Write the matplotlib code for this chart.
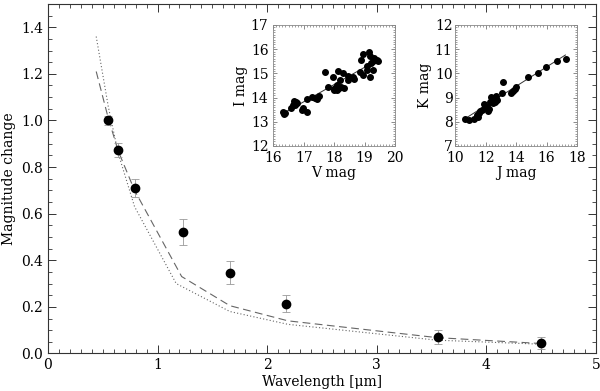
import matplotlib
matplotlib.use("Agg")
import matplotlib.pyplot as plt
from matplotlib.ticker import MultipleLocator

plt.rcParams['font.family'] = ['DejaVu Serif']
plt.rcParams['mathtext.fontset'] = 'dejavuserif'

# Main panel data
wavelength = [0.55, 0.64, 0.79, 1.23, 1.66, 2.17, 3.56, 4.50]
mag_change = [1.00, 0.872, 0.71, 0.522, 0.347, 0.214, 0.07, 0.045]
mag_err = [0.02, 0.03, 0.04, 0.057, 0.048, 0.038, 0.029, 0.025]

model_dash_x = [0.44, 0.55, 0.64, 0.79, 1.22, 1.66, 2.19, 3.55, 4.49]
model_dash_y = [1.21, 1.01, 0.87, 0.70, 0.33, 0.205, 0.14, 0.068, 0.043]
model_dot_x = [0.44, 0.55, 0.64, 0.79, 1.17, 1.66, 2.19, 3.55, 4.49]
model_dot_y = [1.36, 1.06, 0.86, 0.63, 0.30, 0.18, 0.125, 0.057, 0.040]

# Inset 1: V vs I
v_mag = [16.33, 16.35, 16.38, 16.57, 16.66, 16.68, 16.75, 16.79, 16.72,
         16.93, 16.99, 17.12, 17.10, 17.26, 17.37, 17.45, 17.50, 17.70,
         17.79, 17.97, 17.99, 18.03, 18.08, 18.14, 18.16, 18.21, 18.30,
         18.32, 18.19, 18.08, 17.99, 18.47, 18.47, 18.63, 18.65, 18.85,
         18.87, 18.96, 18.94, 19.07, 19.09, 19.16, 19.18, 19.18, 19.20,
         19.29, 19.27, 19.40, 19.45, 19.31]
i_mag = [13.42, 13.31, 13.38, 13.56, 13.69, 13.85, 13.80, 13.76, 13.69,
         13.49, 13.56, 13.39, 13.96, 14.04, 13.97, 13.93, 14.07, 15.04,
         14.45, 14.84, 14.31, 14.41, 14.52, 15.10, 14.38, 14.45, 15.03,
         14.38, 14.73, 14.31, 14.36, 14.73, 14.89, 14.87, 14.77, 15.07,
         15.55, 14.93, 15.79, 15.14, 15.32, 15.87, 15.72, 14.86, 15.42,
         15.51, 15.14, 15.55, 15.53, 15.62]
vi_fit_x = [16.33, 19.35]
vi_fit_y = [13.35, 15.50]

# Inset 2: J vs K
j_mag = [10.61, 10.92, 11.23, 11.43, 11.54, 11.64, 11.75, 11.49, 11.86,
         11.97, 12.08, 12.19, 12.15, 12.30, 12.41, 12.52, 12.63, 12.74,
         12.68, 12.46, 12.59, 12.37, 13.07, 13.14, 13.68, 13.77, 13.90,
         14.01, 14.76, 15.44, 15.99, 16.69, 17.28]
k_mag = [8.12, 8.07, 8.10, 8.28, 8.38, 8.45, 8.49, 8.21, 8.74,
         8.60, 8.63, 8.52, 8.46, 8.83, 8.90, 8.94, 8.97, 8.90,
         9.07, 8.76, 8.83, 9.01, 9.20, 9.66, 9.20, 9.27, 9.36,
         9.42, 9.87, 10.03, 10.28, 10.53, 10.61]
jk_fit_x = [10.77, 17.24]
jk_fit_y = [8.18, 10.76]

fig = plt.figure(figsize=(6.0, 3.91), dpi=100)
ax = fig.add_axes([0.08, 0.096, 0.913, 0.894])

ax.plot(model_dash_x, model_dash_y, color='#666666', lw=0.8, ls=(0, (7, 4)))
ax.plot(model_dot_x, model_dot_y, color='#666666', lw=0.8, ls=(0, (1, 2)))
ax.errorbar(wavelength, mag_change, yerr=mag_err, fmt='o', color='black',
            ms=6, ecolor='#999999', elinewidth=0.6, capsize=3, capthick=0.6)

ax.set_xlim(0, 5)
ax.set_ylim(0, 1.5)
ax.set_xticks([0, 1, 2, 3, 4, 5])
ax.set_yticks([0.0, 0.2, 0.4, 0.6, 0.8, 1.0, 1.2, 1.4])
ax.set_yticklabels(['0.0', '0.2', '0.4', '0.6', '0.8', '1.0', '1.2', '1.4'])
ax.xaxis.set_minor_locator(MultipleLocator(0.1))
ax.yaxis.set_minor_locator(MultipleLocator(0.05))
ax.tick_params(which='both', direction='in', top=True, right=True, labelsize=10,
               color='#333333')
ax.tick_params(which='major', length=6, width=0.7)
ax.tick_params(which='minor', length=3, width=0.6)
for s in ax.spines.values():
    s.set_linewidth(0.8)
    s.set_color('#333333')
ax.set_xlabel('Wavelength [μm]', fontsize=10, labelpad=2)
ax.set_ylabel('Magnitude change', fontsize=10, labelpad=4)

def style_inset(a):
    a.tick_params(which='both', direction='in', top=True, right=True,
                  labelsize=10, color='#777777')
    a.tick_params(which='major', length=3, width=0.6)
    a.tick_params(which='minor', length=1.5, width=0.5)
    for s in a.spines.values():
        s.set_linewidth(0.6)
        s.set_color('#888888')
    a.patch.set_facecolor('white')

ax1 = fig.add_axes([0.4555, 0.6266, 0.2028, 0.3095])
ax1.plot(vi_fit_x, vi_fit_y, color='#333333', lw=0.7)
ax1.plot(v_mag, i_mag, 'o', color='black', ms=4)
ax1.set_xlim(16, 20)
ax1.set_ylim(12, 17)
ax1.set_xticks([16, 17, 18, 19, 20])
ax1.set_yticks([12, 13, 14, 15, 16, 17])
ax1.xaxis.set_minor_locator(MultipleLocator(0.1))
ax1.yaxis.set_minor_locator(MultipleLocator(0.1))
style_inset(ax1)
ax1.set_xlabel('V mag', fontsize=10, labelpad=1)
ax1.set_ylabel('I mag', fontsize=10, labelpad=2)

ax2 = fig.add_axes([0.7588, 0.6266, 0.2028, 0.3095])
ax2.plot(jk_fit_x, jk_fit_y, color='#333333', lw=0.7)
ax2.plot(j_mag, k_mag, 'o', color='black', ms=4)
ax2.set_xlim(10, 18)
ax2.set_ylim(7, 12)
ax2.set_xticks([10, 12, 14, 16, 18])
ax2.set_yticks([7, 8, 9, 10, 11, 12])
ax2.xaxis.set_minor_locator(MultipleLocator(0.2))
ax2.yaxis.set_minor_locator(MultipleLocator(0.1))
style_inset(ax2)
ax2.tick_params(axis='y', pad=2)
ax2.set_xlabel('J mag', fontsize=10, labelpad=1)
ax2.set_ylabel('K mag', fontsize=10, labelpad=2)

fig.savefig('out.png', dpi=100)
